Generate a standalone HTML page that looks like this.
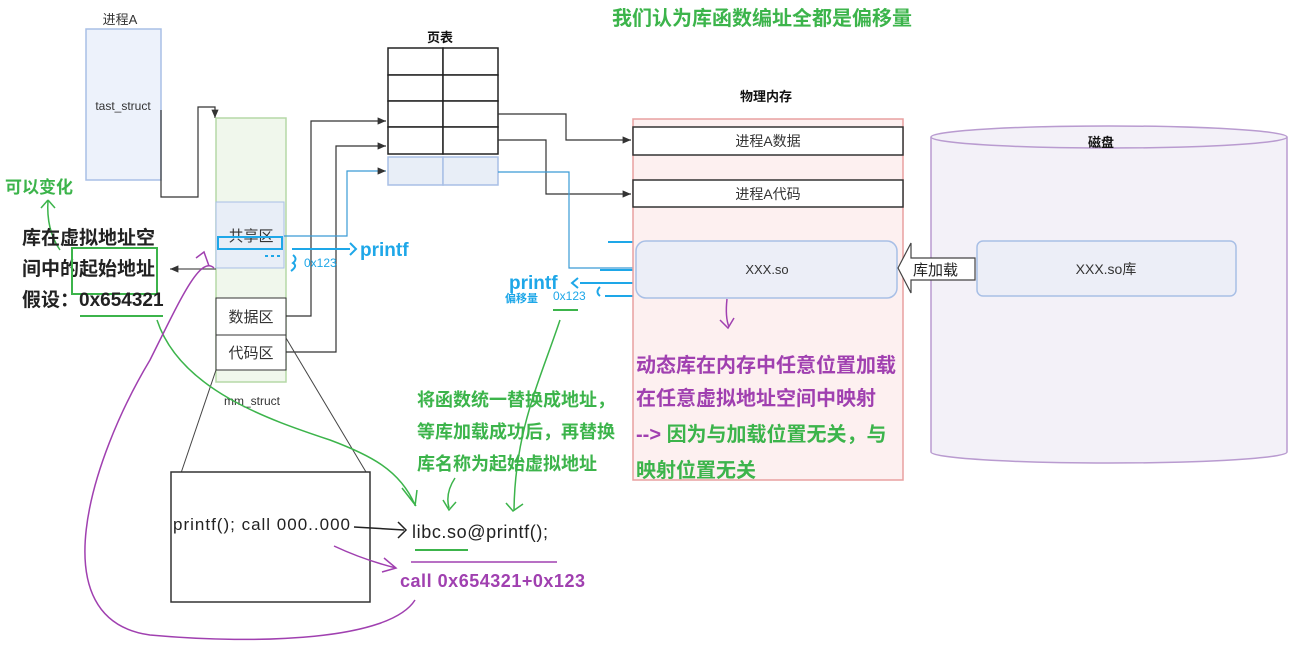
<!DOCTYPE html>
<html><head><meta charset="utf-8"><style>
html,body{margin:0;padding:0;background:#fff;}
svg{display:block;}
text{font-family:"Liberation Sans","Noto Sans CJK SC",sans-serif;}
.b{font-weight:bold;}
</style></head><body>
<svg width="1303" height="651" viewBox="0 0 1303 651" xmlns="http://www.w3.org/2000/svg">
<defs>
<marker id="ah" markerWidth="8" markerHeight="8" refX="7" refY="4" orient="auto"><path d="M0,1 L7,4 L0,7 z" fill="#333"/></marker>
</defs>
<text x="762" y="25" text-anchor="middle" font-size="20" class="b" fill="#3cb44b">我们认为库函数编址全都是偏移量</text>
<!-- process A -->
<text x="120" y="24" text-anchor="middle" font-size="13" fill="#333" font-family="Liberation Serif">进程A</text>
<rect x="86" y="29" width="75" height="151" fill="#edf2fb" stroke="#a8bfe6" stroke-width="1.5"/>
<text x="123" y="110" text-anchor="middle" font-size="12" fill="#333" font-family="Liberation Serif">tast_struct</text>
<polyline points="161,110 161,197 198,197 198,107 215,107 215,118" fill="none" stroke="#333" stroke-width="1.2" marker-end="url(#ah)"/>
<!-- mm_struct -->
<rect x="216" y="118" width="70" height="264" fill="#f0f7ec" stroke="#b5d9a7" stroke-width="1.5"/>
<text x="252" y="405" text-anchor="middle" font-size="12" fill="#333" font-family="Liberation Serif">mm_struct</text>
<rect x="216" y="202" width="68" height="66" fill="#e8eef7" stroke="#a8bfe6"/>
<text x="251" y="241" text-anchor="middle" font-size="15" fill="#333">共享区</text>
<rect x="218" y="237" width="64" height="12" fill="none" stroke="#1ea7e8" stroke-width="2"/>
<rect x="216" y="298" width="70" height="37" fill="#fff" stroke="#333"/>
<text x="251" y="322" text-anchor="middle" font-size="15" fill="#333">数据区</text>
<rect x="216" y="335" width="70" height="35" fill="#fff" stroke="#333"/>
<text x="251" y="358" text-anchor="middle" font-size="15" fill="#333">代码区</text>
<line x1="216" y1="269" x2="170" y2="269" stroke="#555" stroke-width="1.2" marker-end="url(#ah)"/>
<!-- page table -->
<text x="440" y="42" text-anchor="middle" font-size="13" class="b" fill="#111">页表</text>
<g fill="#fff" stroke="#222" stroke-width="1.5">
<rect x="388" y="48" width="55" height="27"/><rect x="443" y="48" width="55" height="27"/>
<rect x="388" y="75" width="55" height="26"/><rect x="443" y="75" width="55" height="26"/>
<rect x="388" y="101" width="55" height="26"/><rect x="443" y="101" width="55" height="26"/>
<rect x="388" y="127" width="55" height="27"/><rect x="443" y="127" width="55" height="27"/>
</g>
<rect x="388" y="157" width="55" height="28" fill="#e8eef7" stroke="#a8bfe6" stroke-width="1.5"/>
<rect x="443" y="157" width="55" height="28" fill="#e8eef7" stroke="#a8bfe6" stroke-width="1.5"/>
<!-- connectors -->
<polyline points="286,316 311,316 311,121 386,121" fill="none" stroke="#333" stroke-width="1.2" marker-end="url(#ah)"/>
<polyline points="286,352 336,352 336,146 386,146" fill="none" stroke="#333" stroke-width="1.2" marker-end="url(#ah)"/>
<polyline points="284,236 347,236 347,171 386,171" fill="none" stroke="#3a9bd5" stroke-width="1.2" marker-end="url(#ah)"/>
<polyline points="498,114 566,114 566,140 631,140" fill="none" stroke="#333" stroke-width="1.2" marker-end="url(#ah)"/>
<polyline points="498,140 546,140 546,194 631,194" fill="none" stroke="#333" stroke-width="1.2" marker-end="url(#ah)"/>
<polyline points="498,172 569,172 569,268 636,268" fill="none" stroke="#3a9bd5" stroke-width="1.2"/>
<!-- blue printf -->
<line x1="292" y1="249" x2="350" y2="249" stroke="#1ea7e8" stroke-width="2"/>
<path d="M350,243 L356,249 L350,255" fill="none" stroke="#1ea7e8" stroke-width="2"/>
<text x="360" y="256" font-size="19" class="b" fill="#1ea7e8">printf</text>
<path d="M293,255 q5,4 0,8 q5,3 -2,8" fill="none" stroke="#1ea7e8" stroke-width="2"/>
<line x1="265" y1="256" x2="280" y2="256" stroke="#1ea7e8" stroke-width="2" stroke-dasharray="3,3"/>
<text x="304" y="267" font-size="12" fill="#1ea7e8">0x123</text>
<text x="509" y="289" font-size="19" class="b" fill="#1ea7e8">printf</text>
<path d="M578,278 L572,283 L578,288" fill="none" stroke="#1ea7e8" stroke-width="2"/>
<line x1="580" y1="283" x2="636" y2="283" stroke="#1ea7e8" stroke-width="2"/>
<text x="505" y="302" font-size="11" class="b" fill="#1ea7e8">偏移量</text>
<text x="553" y="300" font-size="12" fill="#1ea7e8">0x123</text>
<path d="M600,287 q-5,5 0,9" fill="none" stroke="#1ea7e8" stroke-width="2"/>
<line x1="605" y1="296" x2="636" y2="296" stroke="#1ea7e8" stroke-width="2"/>
<line x1="608" y1="242" x2="634" y2="242" stroke="#1ea7e8" stroke-width="2"/>
<line x1="600" y1="270" x2="634" y2="270" stroke="#1ea7e8" stroke-width="2"/>
<line x1="553" y1="310" x2="578" y2="310" stroke="#3cb44b" stroke-width="2"/>
<!-- physical memory -->
<text x="766" y="101" text-anchor="middle" font-size="13" class="b" fill="#111">物理内存</text>
<rect x="633" y="119" width="270" height="361" fill="#fdf0f0" stroke="#e8a0a0" stroke-width="1.5"/>
<rect x="633" y="127" width="270" height="28" fill="#fff" stroke="#333" stroke-width="1.5"/>
<text x="768" y="146" text-anchor="middle" font-size="14" fill="#333">进程A数据</text>
<rect x="633" y="180" width="270" height="27" fill="#fff" stroke="#333" stroke-width="1.5"/>
<text x="768" y="199" text-anchor="middle" font-size="14" fill="#333">进程A代码</text>
<rect x="636" y="241" width="261" height="57" rx="10" fill="#eceef7" stroke="#a8bfe6" stroke-width="1.5"/>
<text x="767" y="274" text-anchor="middle" font-size="13" fill="#333" font-family="Liberation Serif">XXX.so</text>
<path d="M727,299 q-2,18 2,28 M720,320 l8,8 l6,-10" fill="none" stroke="#a040b0" stroke-width="1.5"/>
<text x="636" y="372" font-size="20" class="b" fill="#a040b0">动态库在内存中任意位置加载</text>
<text x="636" y="405" font-size="20" class="b" fill="#a040b0">在任意虚拟地址空间中映射</text>
<text x="636" y="441" font-size="20" class="b" fill="#a040b0">--&gt; <tspan fill="#3cb44b">因为与加载位置无关，与</tspan></text>
<text x="636" y="477" font-size="20" class="b" fill="#3cb44b">映射位置无关</text>
<!-- disk -->
<path d="M931,137 L931,452 A178,11 0 0 0 1287,452 L1287,137" fill="#f3f1f8" stroke="#b99bd0" stroke-width="1.5"/>
<ellipse cx="1109" cy="137" rx="178" ry="11" fill="#f3f1f8" stroke="#b99bd0" stroke-width="1.5"/>
<text x="1101" y="147" text-anchor="middle" font-size="13" class="b" fill="#111">磁盘</text>
<rect x="977" y="241" width="259" height="55" rx="6" fill="#eceef7" stroke="#a8bfe6" stroke-width="1.5"/>
<text x="1106" y="274" text-anchor="middle" font-size="14" fill="#333" font-family="Liberation Serif">XXX.so库</text>
<path d="M975,258 L911,258 L911,243 L898,268 L911,293 L911,280 L975,280 z" fill="#fff" stroke="#444" stroke-width="1.2"/>
<text x="913" y="275" font-size="15" fill="#222">库加载</text>
<!-- left labels -->
<text x="5" y="193" font-size="17" class="b" fill="#3cb44b">可以变化</text>
<path d="M48,200 l-7,8 M48,200 l7,8 M48,200 q-2,30 12,50" fill="none" stroke="#3cb44b" stroke-width="1.5"/>
<text x="22" y="244" font-size="19" class="b" fill="#222">库在虚拟地址空</text>
<text x="22" y="275" font-size="19" class="b" fill="#222">间中的起始地址</text>
<rect x="72" y="248" width="85" height="46" fill="none" stroke="#3cb44b" stroke-width="2"/>
<text x="22" y="306" font-size="19" class="b" fill="#222">假设：0x654321</text>
<line x1="80" y1="316" x2="163" y2="316" stroke="#3cb44b" stroke-width="2"/>
<!-- code box -->
<line x1="216" y1="370" x2="180" y2="476" stroke="#444"/>
<line x1="286" y1="338" x2="366" y2="472" stroke="#444"/>
<rect x="171" y="472" width="199" height="130" fill="#fff" stroke="#333" stroke-width="1.5"/>
<text x="173" y="530" font-size="17" fill="#222" textLength="177">printf(); call 000..000</text>
<path d="M354,527 L404,530 M398,522 l8,8 l-8,8" fill="none" stroke="#222" stroke-width="1.5"/>
<text x="412" y="538" font-size="18" fill="#222" textLength="136">libc.so@printf();</text>
<line x1="415" y1="550" x2="468" y2="550" stroke="#3cb44b" stroke-width="2"/>
<line x1="411" y1="562" x2="557" y2="562" stroke="#a040b0" stroke-width="1.5"/>
<text x="400" y="587" font-size="18" class="b" fill="#a040b0" textLength="185">call 0x654321+0x123</text>
<path d="M334,546 q30,14 62,22 M384,558 l12,10 l-14,4" fill="none" stroke="#a040b0" stroke-width="1.5"/>
<!-- green notes -->
<text x="417" y="406" font-size="18" class="b" fill="#3cb44b">将函数统一替换成地址，</text>
<text x="417" y="438" font-size="18" class="b" fill="#3cb44b">等库加载成功后，再替换</text>
<text x="417" y="470" font-size="18" class="b" fill="#3cb44b">库名称为起始虚拟地址</text>
<path d="M157,320 C180,390 270,420 330,440 C370,455 400,470 415,505 M402,488 l14,18 M417,490 l-2,16" fill="none" stroke="#3cb44b" stroke-width="1.5"/>
<path d="M455,478 q-10,15 -6,30 M443,500 l6,10 l7,-8" fill="none" stroke="#3cb44b" stroke-width="1.5"/>
<path d="M560,320 C540,380 515,430 514,510 M506,503 l7,8 l10,-7" fill="none" stroke="#3cb44b" stroke-width="1.5"/>
<!-- purple loop -->
<path d="M214,268 C200,255 180,300 150,360 C90,460 40,620 150,635 C260,645 390,640 415,600" fill="none" stroke="#a040b0" stroke-width="1.5"/>
<path d="M196,258 l8,-6 l5,14" fill="none" stroke="#a040b0" stroke-width="1.5"/>
</svg>
</body></html>
